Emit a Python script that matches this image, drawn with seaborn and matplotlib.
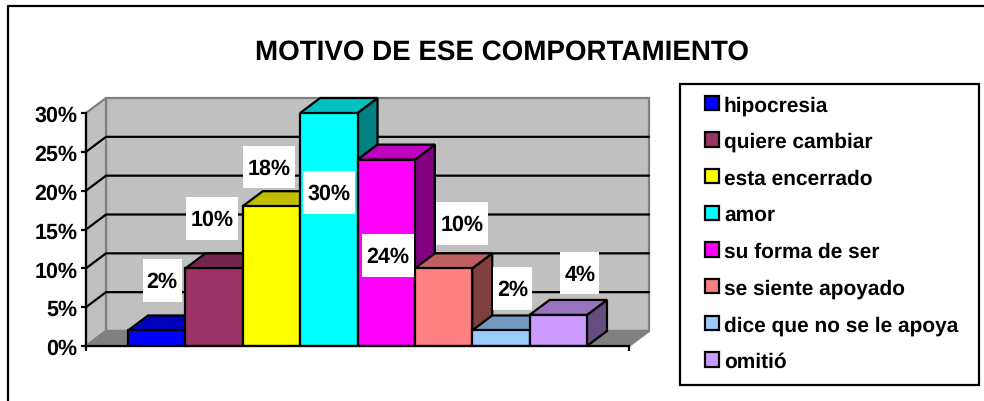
import matplotlib
matplotlib.use("Agg")
import matplotlib.pyplot as plt
import matplotlib.colors as mcolors
from matplotlib.lines import Line2D
from matplotlib.patches import Patch, Polygon, Rectangle
import pandas as pd
import seaborn as sns

title = "MOTIVO DE ESE COMPORTAMIENTO"
motivos = ["hipocresia", "quiere cambiar", "esta encerrado", "amor",
           "su forma de ser", "se siente apoyado", "dice que no se le apoya", "omitió"]
valores = [2, 10, 18, 30, 24, 10, 2, 4]
colores = ["#0000FF", "#993366", "#FFFF00", "#00FFFF",
           "#FF00FF", "#FF8080", "#99CCFF", "#CC99FF"]
yticks = [0, 5, 10, 15, 20, 25, 30]

# where each value label sits, in pixels from the top centre of its bar
label_dx = [5.5, -2, -2.6, 0, 1.5, 18.5, 11.5, 21.5]
label_dy = [50, 50, 39, -79.5, -96, 45, 42, 41.7]

W, H = 984, 402
BAR_PX = 57.3
Y_PX = 233 / 30
DX = 20 / BAR_PX
DY = 15 / Y_PX


def shade(color, f):
    r, g, b = mcolors.to_rgb(color)
    return (r * f, g * f, b * f)


def face(ax, pts, fc, ec="black", z=3):
    ax.add_patch(Polygon(pts, closed=True, facecolor=fc, edgecolor=ec,
                         linewidth=1.6, zorder=z, clip_on=False, joinstyle="miter"))


sns.set_style("white")
plt.rcParams["font.family"] = ["Liberation Sans", "DejaVu Sans"]
plt.rcParams["font.weight"] = "bold"
plt.rcParams["text.color"] = "black"
plt.rcParams["ytick.color"] = "black"
plt.rcParams["text.hinting"] = "no_hinting"

df = pd.DataFrame({"motivo": motivos, "valor": valores})

fig = plt.figure(figsize=(W / 100, H / 100), dpi=100)
ax = fig.add_axes([86 / W, (H - 347) / H, (629 - 86) / W, 233 / H])
ax.patch.set_alpha(0)

sns.barplot(data=df, x="motivo", y="valor", hue="motivo", palette=colores,
            dodge=False, width=1, saturation=1, edgecolor="black", linewidth=1.6,
            zorder=4, ax=ax)

x0 = -0.5 - 42 / BAR_PX
x1 = 0.5 + 7 + 42 / BAR_PX
ax.set_xlim(x0, x1)
ax.set_ylim(0, 30)
ax.set_xlabel("")
ax.set_ylabel("")

# walls and floor
gris = "#C0C0C0"
borde = "#808080"
face(ax, [(x0 + DX, DY), (x1 + DX, DY), (x1 + DX, 30 + DY), (x0 + DX, 30 + DY)], gris, borde, 0.5)
face(ax, [(x0, 0), (x0 + DX, DY), (x0 + DX, 30 + DY), (x0, 30)], gris, borde, 0.6)
face(ax, [(x0, 0), (x1, 0), (x1 + DX, DY), (x0 + DX, DY)], borde, borde, 0.7)

for v in yticks[1:-1]:
    ax.plot([x0, x0 + DX, x1 + DX], [v, v + DY, v + DY], color="black", lw=1.6,
            zorder=1, clip_on=False, solid_joinstyle="miter")

# depth of the bars, left to right so the next top covers the previous side
for i, (v, c) in enumerate(zip(valores, colores)):
    l, r = i - 0.5, i + 0.5
    face(ax, [(r, 0), (r, v), (r + DX, v + DY), (r + DX, DY)], shade(c, 0.5))
    face(ax, [(l, v), (r, v), (r + DX, v + DY), (l + DX, v + DY)], shade(c, 0.75))

# value labels on white boxes
for i, v in enumerate(valores):
    txt = f"{v}%"
    cx = i + label_dx[i] / BAR_PX
    cy = v + label_dy[i] / Y_PX
    w = (52 if v >= 10 else 39) / BAR_PX
    h = 42.5 / Y_PX
    ax.add_patch(Rectangle((cx - w / 2, cy - h / 2), w, h, facecolor="white",
                           edgecolor="none", zorder=5, clip_on=False))
    ax.text(cx, cy + 1.5 / Y_PX, txt, ha="center", va="center_baseline", fontsize=15.5,
            fontweight="bold", color="black", zorder=6)

# axes
sns.despine(ax=ax, top=True, right=True)
for s in ["left", "bottom"]:
    ax.spines[s].set_color("black")
    ax.spines[s].set_linewidth(1.6)
    ax.spines[s].set_zorder(4.5)
ax.set_yticks(yticks)
ax.set_yticklabels([f"{v}%" for v in yticks], fontsize=15.5, fontweight="bold")
ax.set_xticks([x0, x1])
ax.set_xticklabels(["", ""])
ax.tick_params(axis="both", which="major", left=True, bottom=True, length=3.6, width=1.6,
               color="black", pad=2.5)

fig.text(502 / W, (H - 50) / H, title, ha="center", va="center_baseline", fontsize=20, fontweight="bold")

# outer frame, only top and left are in the picture
fig.add_artist(Line2D([7.5 / W, 7.5 / W, 1], [0, (H - 7) / H, (H - 7) / H], color="black", lw=1.6))

# legend
fig.add_artist(Rectangle((680 / W, (H - 386) / H), 299 / W, 301 / H, transform=fig.transFigure,
                         facecolor="none", edgecolor="black", lw=1.6, zorder=5))
handles = [Patch(facecolor=c, edgecolor="black", linewidth=1.6) for c in colores]
leg = ax.legend(handles, motivos, loc="upper left", bbox_to_anchor=(705 / W, (H - 96) / H),
                bbox_transform=fig.transFigure, frameon=False, fontsize=15, borderpad=0,
                borderaxespad=0, handlelength=0.67, handleheight=0.67, handletextpad=0.24,
                labelspacing=0.82)
leg.set_zorder(10)
for t in leg.get_texts():
    t.set_fontweight("bold")

fig.savefig("out.png", dpi=100)
